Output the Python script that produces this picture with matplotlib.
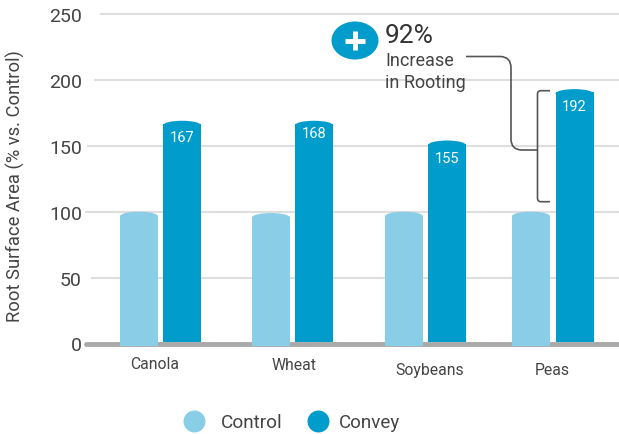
import matplotlib
matplotlib.use('Agg')
import matplotlib.pyplot as plt
from matplotlib.patches import Ellipse, PathPatch
from matplotlib.path import Path

categories = ['Canola', 'Wheat', 'Soybeans', 'Peas']
control = [100, 99, 100, 100]
convey = [169, 169, 154, 193]
convey_labels = ['167', '168', '155', '192']
yticks = [0, 50, 100, 150, 200, 250]

# layout, in pixels of the 619x435 picture
control_x = [139, 271, 404, 531]
convey_x = [182, 314, 447, 574.5]
label_x = [155, 294, 430, 552]
label_pad = [9, 10, 13, 13]
label_drop = [12, 9, 13, 13]  # value label below bar top, data units
grid_start = [91, 85, 87, 94, 100]  # the lines start just past each tick label
bar_w = 38
cap_h = 3.5  # data units, top curve of the bars

CONTROL = '#89cde6'
CONVEY = '#009ccb'
TEXT = '#444444'

plt.rcParams['font.family'] = ['Roboto', 'DejaVu Sans']

fig = plt.figure(figsize=(6.19, 4.35), dpi=100)
ax = fig.add_axes([86 / 619, (435 - 344.5) / 435, 533 / 619, 329.5 / 435])
ax.set_xlim(86, 619)
ax.set_ylim(0, 250)
for s in ax.spines.values():
    s.set_visible(False)

ax.hlines(yticks[1:], grid_start, 619, color='#dedede', lw=1.5, zorder=1, clip_on=False)

# bars with a curved top
for x, v in zip(control_x, control):
    ax.bar(x, v - cap_h + 2, bottom=-2, width=bar_w, color=CONTROL, zorder=4, clip_on=False)
    ax.add_patch(Ellipse((x, v - cap_h), bar_w, cap_h * 2, color=CONTROL, lw=0, zorder=4))
for x, v in zip(convey_x, convey):
    ax.bar(x, v - cap_h, bottom=1, width=bar_w, color=CONVEY, zorder=2)
    ax.add_patch(Ellipse((x, v - cap_h), bar_w, cap_h * 2, color=CONVEY, lw=0, zorder=2))

ax.plot([86, 619], [0, 0], color='#a9a9a9', lw=3.5, solid_capstyle='round', zorder=3, clip_on=False)

for x, v, d, t in zip(convey_x, convey, label_drop, convey_labels):
    ax.text(x, v - d, t, color='white', fontsize=10.5, ha='center', va='center', zorder=5)

ax.set_yticks(yticks)
ax.tick_params(axis='y', length=0, pad=3, labelsize=14, labelcolor=TEXT)
ax.set_xticks(label_x)
ax.set_xticklabels(categories)
ax.tick_params(axis='x', length=0, labelsize=11.3, labelcolor=TEXT)
for tick, p in zip(ax.xaxis.get_major_ticks(), label_pad):
    tick.set_pad(p)

# overlay in picture pixels for callout and legend
ov = fig.add_axes([0, 0, 1, 1])
ov.set_xlim(0, 619)
ov.set_ylim(435, 0)
ov.axis('off')

ov.text(15.5, 186, 'Root Surface Area (% vs. Control)', rotation=90, fontsize=13.2,
        color=TEXT, ha='center', va='center')

# plus badge
ov.add_patch(Ellipse((355, 41.5), 47, 38, color=CONVEY, lw=0))
ov.plot([345, 365], [41.5, 41.5], color='white', lw=3.5, solid_capstyle='butt')
ov.plot([355, 355], [32, 51], color='white', lw=3.5, solid_capstyle='butt')
ov.text(385, 36, '92%', fontsize=19, color='#333333', va='center', ha='left')
ov.text(385, 61, 'Increase', fontsize=13, color=TEXT, va='center', ha='left')
ov.text(385, 83, 'in Rooting', fontsize=13, color=TEXT, va='center', ha='left')

# connector and bracket
line_path = Path(
    [(466, 57.5), (500, 57.5), (511, 57.5), (511, 69), (511, 140), (511, 151), (522, 151), (537, 151)],
    [Path.MOVETO, Path.LINETO, Path.CURVE3, Path.CURVE3, Path.LINETO, Path.CURVE3, Path.CURVE3, Path.LINETO])
ov.add_patch(PathPatch(line_path, fill=False, ec='#555555', lw=1.2))
bracket_path = Path(
    [(550, 91.7), (541, 91.7), (537.5, 91.7), (537.5, 95), (537.5, 199), (537.5, 202.7), (541, 202.7), (550, 202.7)],
    [Path.MOVETO, Path.LINETO, Path.CURVE3, Path.CURVE3, Path.LINETO, Path.CURVE3, Path.CURVE3, Path.LINETO])
ov.add_patch(PathPatch(bracket_path, fill=False, ec='#555555', lw=1.2))

# legend
ov.scatter([194], [422], s=250, color=CONTROL, lw=0)
ov.scatter([318], [422], s=250, color=CONVEY, lw=0)
ov.text(221, 423, 'Control', fontsize=13.7, color=TEXT, va='center', ha='left')
ov.text(339, 423, 'Convey', fontsize=13.5, color=TEXT, va='center', ha='left')

fig.savefig('out.png', dpi=100)
